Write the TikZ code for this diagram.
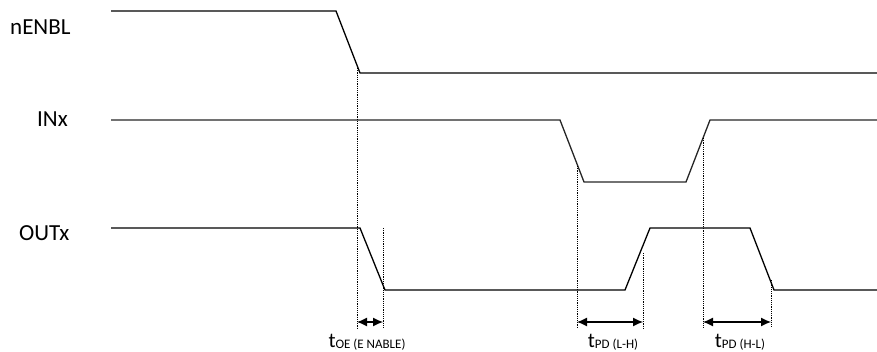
\documentclass[tikz,border=0pt]{standalone}
\usepackage{fontspec}
\setmainfont{Carlito}
\usetikzlibrary{arrows.meta}
\begin{document}
\begin{tikzpicture}[x=1pt,y=-1pt,
  wave/.style={line width=1.3pt,line join=miter},
  guide/.style={line width=0.85pt,dash pattern=on 1.2pt off 1pt},
  meas/.style={line width=1.2pt,{Latex[length=10pt,width=9pt]}-{Latex[length=10pt,width=9pt]}},
  siglabel/.style={anchor=base west,inner sep=0pt,font=\fontsize{23}{26}\selectfont},
  tlabel/.style={anchor=base,inner sep=0pt,font=\fontsize{21}{24}\selectfont}]
\useasboundingbox (0,0) rectangle (877,352);
% signal labels
\node[siglabel] (lenbl) at (10,35) {nENBL};
\node[siglabel] (linx) at (37,127) {INx};
\node[siglabel] (loutx) at (19,241) {OUTx};
% waveforms
\draw[wave] (111,11) -- (336,11) -- (360,73) -- (877,73);
\draw[wave,black!85] (111,120) -- (560,120) -- (584,182) -- (686,182) -- (710,120) -- (877,120);
\draw[wave] (111,228) -- (360,228) -- (385,290) -- (625,290) -- (650,228) -- (750,228) -- (774,290) -- (877,290);
% guide coordinates
\coordinate (g1t) at (357,68);  \coordinate (g1b) at (357,328);
\coordinate (g2t) at (383,228); \coordinate (g2b) at (383,328);
\coordinate (g3t) at (577,166); \coordinate (g3b) at (577,328);
\coordinate (g4t) at (643,253); \coordinate (g4b) at (643,328);
\coordinate (g5t) at (703,138); \coordinate (g5b) at (703,328);
\coordinate (g6t) at (771,280); \coordinate (g6b) at (771,328);
\draw[guide] (g1t) -- (g1b);
\draw[guide] (g2t) -- (g2b);
\draw[guide] (g3t) -- (g3b);
\draw[guide] (g4t) -- (g4b);
\draw[guide] (g5t) -- (g5b);
\draw[guide] (g6t) -- (g6b);
% measurement arrows
\coordinate (a1l) at (357,322); \coordinate (a1r) at (383,322);
\coordinate (a2l) at (577,322); \coordinate (a2r) at (643,322);
\coordinate (a3l) at (703,322); \coordinate (a3r) at (771,322);
\draw[meas] (a1l) -- (a1r);
\draw[meas] (a2l) -- (a2r);
\draw[meas] (a3l) -- (a3r);
% timing labels
\node[tlabel] (toe) at (367,347) {t\raisebox{-1.5pt}{\fontsize{13}{15}\selectfont OE (E NABLE)}};
\node[tlabel] (tlh) at (613,347) {t\raisebox{-1.5pt}{\fontsize{13}{15}\selectfont PD (L-H)}};
\node[tlabel] (thl) at (740,347) {t\raisebox{-1.5pt}{\fontsize{13}{15}\selectfont PD (H-L)}};
\end{tikzpicture}
\end{document}
